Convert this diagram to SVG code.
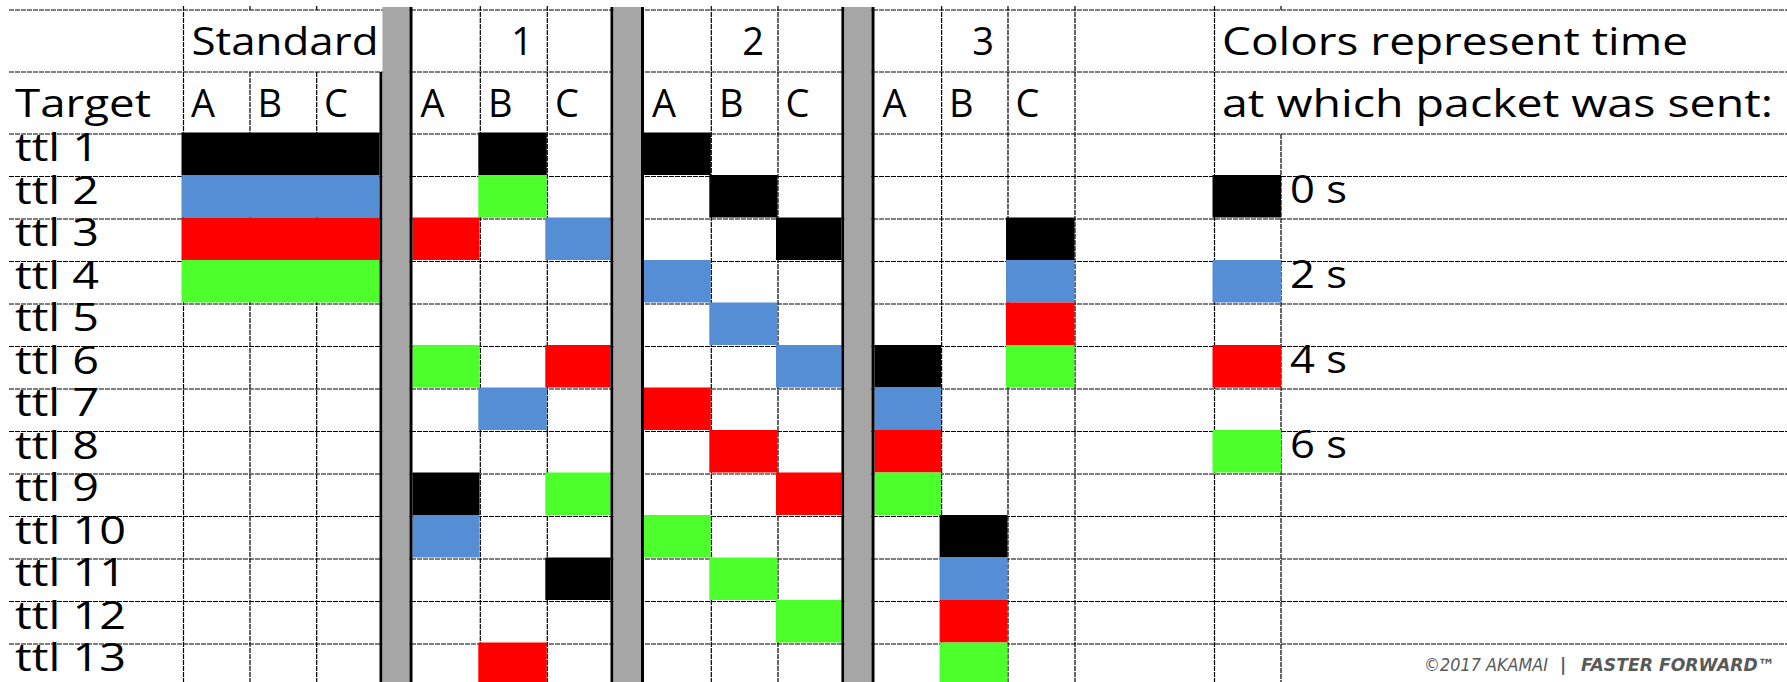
<svg xmlns="http://www.w3.org/2000/svg" width="1787" height="682" viewBox="0 0 1787 682">
<style>
.grid{stroke:#000000;stroke-width:1.2;stroke-dasharray:5 1;fill:none}
.k{fill:#000000}.b{fill:#558ED5}.r{fill:#FF0000}.g{fill:#4DFF2B}
.sepg{fill:#A6A6A6}.sepk{fill:#000000}
.t{font-family:"Open Sans","Noto Sans","Liberation Sans",sans-serif;font-size:38px;fill:#000}
.cp{font-family:"DejaVu Sans","Liberation Sans",sans-serif;font-size:17px;fill:#595959;font-style:italic}
</style>
<rect width="1787" height="682" fill="#ffffff"/>
<g id="grid" class="grid">
<path d="M9 10H1787M9 72H1787M9 134H1787M9 176.5H1787M9 219H1787M9 261.5H1787M9 304H1787M9 346.5H1787M9 389H1787M9 431.5H1787M9 474H1787M9 516.5H1787M9 559H1787M9 601.5H1787M9 644H1787"/>
<path d="M183.5 6V682M250 6V10M250 72V682M316.7 6V10M316.7 72V682M480.3 6V682M547.3 6V682M711.3 6V682M778 6V682M941.6 6V682M1008 6V682M1075 6V682M1214.5 6V682M1281 6V10M1281 134V682"/>
</g>
<g id="cells">
<rect class="k" x="181.5" y="132.5" width="198" height="42.5"/>
<rect class="b" x="181.5" y="175" width="198" height="42.5"/>
<rect class="r" x="181.5" y="217.5" width="198" height="42.5"/>
<rect class="g" x="181.5" y="260" width="198" height="42.5"/>
<!-- group 1 -->
<rect class="k" x="478.3" y="132.5" width="68.5" height="42.5"/>
<rect class="g" x="478.3" y="175" width="68.5" height="42.5"/>
<rect class="r" x="412.5" y="217.5" width="67" height="42.5"/>
<rect class="b" x="545.3" y="217.5" width="65.2" height="42.5"/>
<rect class="g" x="412.5" y="345" width="67" height="42.5"/>
<rect class="r" x="545.3" y="345" width="65.2" height="42.5"/>
<rect class="b" x="478.3" y="387.5" width="68.5" height="42.5"/>
<rect class="k" x="412.5" y="472.5" width="67" height="42.5"/>
<rect class="g" x="545.3" y="472.5" width="65.2" height="42.5"/>
<rect class="b" x="412.5" y="515" width="67" height="42.5"/>
<rect class="k" x="545.3" y="557.5" width="65.2" height="42.5"/>
<rect class="r" x="478.3" y="642.5" width="68.5" height="42.5"/>
<!-- group 2 -->
<rect class="k" x="644" y="132.5" width="66.8" height="42.5"/>
<rect class="k" x="709.3" y="175" width="68.2" height="42.5"/>
<rect class="k" x="776" y="217.5" width="65.4" height="42.5"/>
<rect class="b" x="644" y="260" width="66.8" height="42.5"/>
<rect class="b" x="709.3" y="302.5" width="68.2" height="42.5"/>
<rect class="b" x="776" y="345" width="65.4" height="42.5"/>
<rect class="r" x="644" y="387.5" width="66.8" height="42.5"/>
<rect class="r" x="709.3" y="430" width="68.2" height="42.5"/>
<rect class="r" x="776" y="472.5" width="65.4" height="42.5"/>
<rect class="g" x="644" y="515" width="66.8" height="42.5"/>
<rect class="g" x="709.3" y="557.5" width="68.2" height="42.5"/>
<rect class="g" x="776" y="600" width="65.4" height="42.5"/>
<!-- group 3 -->
<rect class="k" x="1006" y="217.5" width="68.5" height="42.5"/>
<rect class="b" x="1006" y="260" width="68.5" height="42.5"/>
<rect class="r" x="1006" y="302.5" width="68.5" height="42.5"/>
<rect class="g" x="1006" y="345" width="68.5" height="42.5"/>
<rect class="k" x="874.5" y="345" width="66.6" height="42.5"/>
<rect class="b" x="874.5" y="387.5" width="66.6" height="42.5"/>
<rect class="r" x="874.5" y="430" width="66.6" height="42.5"/>
<rect class="g" x="874.5" y="472.5" width="66.6" height="42.5"/>
<rect class="k" x="939.6" y="515" width="67.9" height="42.5"/>
<rect class="b" x="939.6" y="557.5" width="67.9" height="42.5"/>
<rect class="r" x="939.6" y="600" width="67.9" height="42.5"/>
<rect class="g" x="939.6" y="642.5" width="67.9" height="42.5"/>
</g>
<g id="legend">
<rect class="k" x="1212.5" y="175" width="68.5" height="42.5"/>
<rect class="b" x="1212.5" y="260" width="68.5" height="42.5"/>
<rect class="r" x="1212.5" y="345" width="68.5" height="42.5"/>
<rect class="g" x="1212.5" y="430" width="68.5" height="42.5"/>
<text class="t" x="1222" y="55" textLength="466" lengthAdjust="spacingAndGlyphs">Colors represent time</text>
<text class="t" x="1222" y="117" textLength="551" lengthAdjust="spacingAndGlyphs">at which packet was sent:</text>
<text class="t" x="1290" y="202.5" textLength="57" lengthAdjust="spacingAndGlyphs">0 s</text>
<text class="t" x="1290" y="287.5" textLength="57" lengthAdjust="spacingAndGlyphs">2 s</text>
<text class="t" x="1290" y="372.5" textLength="57" lengthAdjust="spacingAndGlyphs">4 s</text>
<text class="t" x="1290" y="457.5" textLength="57" lengthAdjust="spacingAndGlyphs">6 s</text>
</g>
<g id="headers">
<text class="t" x="191.5" y="55" textLength="187" lengthAdjust="spacingAndGlyphs">Standard</text>
<text class="t" x="533" y="55" text-anchor="end">1</text>
<text class="t" x="764" y="55" text-anchor="end">2</text>
<text class="t" x="994" y="55" text-anchor="end">3</text>
<text class="t" x="15" y="117" textLength="136" lengthAdjust="spacingAndGlyphs">Target</text>
<text class="t" x="191" y="117">A</text><text class="t" x="257.5" y="117">B</text><text class="t" x="324" y="117">C</text>
<text class="t" x="420.5" y="117">A</text><text class="t" x="488" y="117">B</text><text class="t" x="555" y="117">C</text>
<text class="t" x="652" y="117">A</text><text class="t" x="719" y="117">B</text><text class="t" x="785.5" y="117">C</text>
<text class="t" x="882.5" y="117">A</text><text class="t" x="949" y="117">B</text><text class="t" x="1015.5" y="117">C</text>
</g>
<g id="rowlabels">
<text class="t" x="15" y="161" textLength="84" lengthAdjust="spacingAndGlyphs">ttl 1</text>
<text class="t" x="15" y="203.5" textLength="84" lengthAdjust="spacingAndGlyphs">ttl 2</text>
<text class="t" x="15" y="246" textLength="84" lengthAdjust="spacingAndGlyphs">ttl 3</text>
<text class="t" x="15" y="288.5" textLength="84" lengthAdjust="spacingAndGlyphs">ttl 4</text>
<text class="t" x="15" y="331" textLength="84" lengthAdjust="spacingAndGlyphs">ttl 5</text>
<text class="t" x="15" y="373.5" textLength="84" lengthAdjust="spacingAndGlyphs">ttl 6</text>
<text class="t" x="15" y="416" textLength="84" lengthAdjust="spacingAndGlyphs">ttl 7</text>
<text class="t" x="15" y="458.5" textLength="84" lengthAdjust="spacingAndGlyphs">ttl 8</text>
<text class="t" x="15" y="501" textLength="84" lengthAdjust="spacingAndGlyphs">ttl 9</text>
<text class="t" x="15" y="543.5" textLength="111" lengthAdjust="spacingAndGlyphs">ttl 10</text>
<text class="t" x="15" y="586" textLength="111" lengthAdjust="spacingAndGlyphs">ttl 11</text>
<text class="t" x="15" y="628.5" textLength="111" lengthAdjust="spacingAndGlyphs">ttl 12</text>
<text class="t" x="15" y="671" textLength="111" lengthAdjust="spacingAndGlyphs">ttl 13</text>
</g>
<g id="separators">
<rect class="sepk" x="379.5" y="72" width="3" height="610"/>
<rect class="sepg" x="382.5" y="7" width="27" height="675"/>
<rect class="sepk" x="409.5" y="7" width="3" height="675"/>
<rect class="sepk" x="610.5" y="7" width="3" height="675"/>
<rect class="sepg" x="613.5" y="7" width="27.5" height="675"/>
<rect class="sepk" x="641" y="7" width="3" height="675"/>
<rect class="sepk" x="841.4" y="7" width="3" height="675"/>
<rect class="sepg" x="844.4" y="7" width="27.1" height="675"/>
<rect class="sepk" x="871.5" y="7" width="3" height="675"/>
</g>
<g id="footer">
<text class="cp" x="1424" y="671" textLength="124" lengthAdjust="spacingAndGlyphs">©2017 AKAMAI</text>
<text class="cp" x="1560" y="671" font-weight="bold" font-style="normal">|</text>
<text class="cp" x="1581" y="671" font-weight="bold" textLength="194" lengthAdjust="spacingAndGlyphs">FASTER FORWARD™</text>
</g>
</svg>
